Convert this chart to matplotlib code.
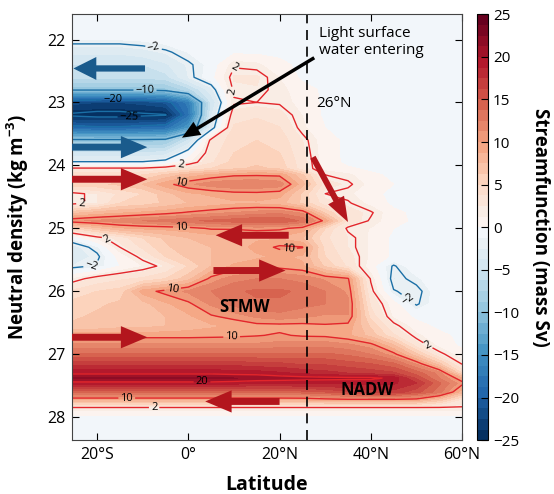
import numpy as np
import matplotlib
matplotlib.use('Agg')
import matplotlib.pyplot as plt
from matplotlib.colors import ListedColormap

plt.rcParams['font.family'] = ['Open Sans', 'DejaVu Sans']
plt.rcParams['mathtext.fontset'] = 'custom'
plt.rcParams['mathtext.rm'] = 'Open Sans'
plt.rcParams['mathtext.bf'] = 'Open Sans:bold'

# grid: columns = latitude, rows = neutral density
latitude = [-25.5, -20, -15, -10, -5, 0, 5, 10, 15, 20, 25, 30, 35, 40, 45, 50, 55, 60]
density = [21.6, 22.0, 22.2, 22.4, 22.6, 22.8, 23.0, 23.2, 23.4, 23.6, 23.8, 23.95,
           24.05, 24.15, 24.3, 24.45, 24.6, 24.75, 24.88, 25.0, 25.15, 25.3, 25.45,
           25.6, 25.8, 26.0, 26.2, 26.4, 26.55, 26.7, 26.85, 27.0, 27.15, 27.3,
           27.38, 27.46, 27.6, 27.72, 27.85, 28.0, 28.4]
psi = [
    [-0.8, -0.8, -0.8, -0.6, -0.4, -0.3, -0.3, -0.3, -0.3, -0.3, -0.3, -0.3, -0.3, -0.3, -0.3, -0.3, -0.3, -0.3],
    [-1.2, -1.2, -1.2, -1.0, -0.6, -0.3, -0.3, -0.3, -0.3, -0.3, -0.3, -0.3, -0.3, -0.3, -0.3, -0.3, -0.3, -0.3],
    [-3.5, -3.5, -3.5, -3.0, -2.3, -1.2, -0.3, -0.3, -0.3, -0.3, -0.3, -0.3, -0.3, -0.3, -0.3, -0.3, -0.3, -0.3],
    [-5.0, -5.0, -5.0, -5.0, -4.0, -2.3, -0.8, 1.8, 1.5, 0.3, -0.3, -0.3, -0.3, -0.3, -0.3, -0.3, -0.3, -0.3],
    [-6.0, -6.0, -6.0, -6.0, -5.5, -2.5, -0.5, 2.6, 2.7, 1.2, -0.3, -0.3, -0.3, -0.3, -0.3, -0.3, -0.3, -0.3],
    [-9.8, -9.8, -9.8, -9.8, -9.3, -7.0, -3.0, 2.3, 2.4, 1.6, 0.6, -0.3, -0.3, -0.3, -0.3, -0.3, -0.3, -0.3],
    [-22, -22.5, -22.5, -22, -21, -17, -5.0, 1.8, 2.0, 1.8, 0.8, -0.3, -0.3, -0.3, -0.3, -0.3, -0.3, -0.3],
    [-25.5, -26, -26, -25.5, -25.2, -18, -4.0, 3.0, 3.5, 3.0, 1.2, -0.3, -0.3, -0.3, -0.3, -0.3, -0.3, -0.3],
    [-19, -19.5, -19.5, -19, -18.5, -14, -3.0, 4.0, 4.5, 3.8, 1.5, 0.0, -0.3, -0.3, -0.3, -0.3, -0.3, -0.3],
    [-9.5, -9.5, -9.5, -9.5, -9.3, -5.0, 2.5, 4.5, 5.0, 4.5, 2.5, 0.5, -0.3, -0.3, -0.3, -0.3, -0.3, -0.3],
    [-5.0, -5.0, -5.0, -5.0, -4.5, -1.0, 3.0, 5.0, 5.5, 5.0, 2.8, 0.5, -0.3, -0.3, -0.3, -0.3, -0.3, -0.3],
    [-1.8, -1.8, -1.8, -1.8, -1.2, 1.0, 3.5, 5.5, 6.0, 5.5, 3.0, 0.6, -0.3, -0.3, -0.3, -0.3, -0.3, -0.3],
    [2.3, 2.3, 2.3, 2.3, 3.0, 4.0, 5.0, 6.0, 6.5, 6.0, 3.0, 0.8, 0.2, -0.3, -0.3, -0.3, -0.3, -0.3],
    [4.5, 4.5, 4.5, 5.0, 6.5, 8.0, 9.0, 9.7, 9.8, 9.7, 6.5, 2.0, 1.5, 0.3, -0.3, -0.3, -0.3, -0.3],
    [6.0, 6.0, 6.5, 7.5, 9.5, 11, 12, 12.5, 12.5, 12, 8.0, 3.0, 2.3, 0.8, 0.0, -0.3, -0.3, -0.3],
    [1.5, 2.5, 4.0, 5.0, 7.0, 8.5, 9.0, 9.5, 9.6, 9.3, 6.0, 2.0, 1.5, 0.3, -0.3, -0.3, -0.3, -0.3],
    [1.5, 2.5, 5.0, 5.5, 6.5, 7.5, 8.0, 8.5, 8.5, 8.0, 6.0, 3.0, 2.2, 0.8, -0.3, -0.3, -0.3, -0.3],
    [7.0, 8.0, 8.5, 9.0, 9.5, 10.2, 10.8, 11.3, 11.8, 12.2, 11, 6.0, 3.0, 2.2, 0.3, -0.3, -0.3, -0.3],
    [11, 11.5, 12, 12.5, 13, 13.5, 14, 14.5, 15, 15, 13.5, 9.5, 3.5, 1.8, 0.5, -0.3, -0.3, -0.3],
    [5.0, 7.0, 8.5, 9.0, 9.2, 9.5, 10.2, 10.2, 10.5, 10.3, 9.5, 5.0, 1.7, 1.2, 0.0, -0.3, -0.3, -0.3],
    [-1.0, 1.5, 3.0, 5.0, 6.5, 7.5, 8.0, 8.5, 8.5, 8.5, 7.5, 4.0, 2.5, 1.0, -0.3, -0.3, -0.3, -0.3],
    [-3.0, -1.5, 2.0, 4.0, 6.0, 7.0, 7.5, 8.0, 9.2, 10.3, 10.1, 4.5, 2.5, 1.0, -0.3, -0.3, -0.3, -0.3],
    [-3.0, -2.3, 0.5, 2.5, 5.0, 6.5, 7.5, 8.0, 8.5, 9.0, 8.5, 5.0, 3.0, 1.0, -0.3, -0.3, -0.3, -0.3],
    [-2.5, -1.8, 0.0, 1.2, 2.5, 5.0, 7.5, 9.0, 9.5, 9.5, 9.0, 6.0, 3.5, 0.5, -2.2, -0.3, -0.3, -0.3],
    [1.2, 2.8, 3.5, 4.0, 5.0, 7.0, 10.5, 12, 12.5, 12.5, 12, 11, 10.2, 1.8, -2.6, -1.5, -0.3, -0.3],
    [4.0, 5.0, 5.5, 9.3, 10.5, 11.5, 12.5, 13.5, 14, 14, 13.5, 12.5, 11, 2.5, -1.9, -2.5, -0.5, -0.3],
    [5.5, 6.0, 6.5, 7.0, 8.5, 9.7, 11.5, 13, 13.5, 13.5, 13, 12.5, 11.5, 3.5, 0.5, -2.2, -0.5, -0.3],
    [6.0, 6.5, 7.0, 7.0, 7.5, 8.5, 9.8, 10.5, 11.5, 12, 11.5, 11, 11.2, 4.5, 1.0, -0.3, -0.3, -0.3],
    [6.5, 6.5, 7.0, 7.0, 7.5, 8.0, 8.5, 9.0, 9.5, 9.5, 9.5, 9.8, 9.5, 6.0, 2.5, 0.5, -0.3, -0.3],
    [9.5, 9.5, 9.5, 9.5, 9.5, 9.5, 9.6, 9.7, 9.9, 10.2, 9.8, 9.7, 9.0, 7.0, 4.0, 1.5, 0.3, -0.3],
    [11.5, 11.5, 11.5, 11.5, 11.5, 11.5, 11.5, 11.5, 11.5, 11.8, 12, 12, 11.5, 10.5, 7.5, 3.0, 0.8, -0.3],
    [14, 14, 14, 14, 14, 14, 14, 14, 14, 14, 14, 14, 13.5, 12.5, 10.5, 6.5, 2.5, 0.5],
    [17, 17, 17, 17, 17, 17, 17, 17, 16.5, 16.5, 16, 16, 15.5, 15, 14, 11, 6.5, 1.8],
    [19.7, 19.7, 19.7, 19.7, 19.7, 19.7, 19.7, 19.5, 19.5, 19, 18.5, 18, 17.5, 17, 16.5, 14.5, 12, 5.0],
    [21.5, 21.5, 21.5, 21.5, 21.5, 21.5, 21.5, 21.3, 21, 20.8, 20.6, 20.5, 20.4, 20.4, 19.6, 16, 12.5, 9.0],
    [19.5, 19.5, 19.5, 19.5, 19.5, 19.5, 19.5, 19.3, 19, 19, 19, 19, 19, 19, 19, 17.5, 14, 10.5],
    [14, 14, 14, 14, 14, 14, 14, 14, 14, 14, 14.5, 15, 16, 17, 17, 15.5, 13, 8.0],
    [9.0, 9.0, 9.0, 9.0, 9.0, 9.0, 9.0, 9.0, 9.0, 9.0, 9.0, 9.5, 9.8, 9.8, 9.8, 9.5, 7.0, 3.5],
    [1.8, 1.8, 1.8, 1.8, 1.8, 1.8, 1.8, 1.8, 1.8, 1.8, 1.8, 1.8, 1.8, 1.8, 1.8, 1.8, 1.8, 1.8],
    [-0.3, -0.3, -0.3, -0.3, -0.3, -0.3, -0.3, -0.3, -0.3, -0.3, -0.3, -0.3, -0.3, -0.3, -0.3, -0.3, -0.3, -0.3],
    [-0.3, -0.3, -0.3, -0.3, -0.3, -0.3, -0.3, -0.3, -0.3, -0.3, -0.3, -0.3, -0.3, -0.3, -0.3, -0.3, -0.3, -0.3],
]

red_levels = [2, 10, 20]
blue_levels = [-25, -20, -10, -2]
lat_ticks = [-20, 0, 20, 40, 60]
lat_labels = ['20°S', '0°', '20°N', '40°N', '60°N']
cbar_ticks = [-25, -20, -15, -10, -5, 0, 5, 10, 15, 20, 25]

red_label_pos = [(9.5, 22.42), (9, 22.84), (-1.7, 24.0), (-1.5, 24.3), (-23.5, 24.55),
                 (-1.5, 24.97), (-19, 25.3), (22, 25.35), (-3.5, 25.93), (9.5, 26.73),
                 (3, 27.43), (-13.5, 27.7), (-7.5, 27.84), (52, 26.93)]
blue_label_pos = [(-7.5, 22.08), (-9.5, 22.8), (-16.5, 22.97), (-13, 23.2),
                  (-21, 25.62), (49, 26.05)]

RED = '#e3262b'
BLUE = '#1b6fa6'
ARROW_RED = '#b3161d'
ARROW_BLUE = '#1a5b8c'

lat = np.array(latitude)
dens = np.array(density)
field = np.array(psi)

# 40-step RdBu with whiter centre bins
cols = plt.get_cmap('RdBu_r')(np.linspace(0, 1, 40))
cols[19] = matplotlib.colors.to_rgba('#f2f6fa')
cols[20] = matplotlib.colors.to_rgba('#fcf3ef')
cmap = ListedColormap(cols)

fig = plt.figure(figsize=(5.54, 4.94), dpi=100)
ax = fig.add_axes([0.130, 0.109, 0.704, 0.862])
cax = fig.add_axes([0.861, 0.109, 0.020, 0.862])

levels = np.linspace(-25, 25, 41)
cf = ax.contourf(lat, dens, np.clip(field, -24.99, 24.99), levels=levels, cmap=cmap)

fmt = lambda v: f'{v:g}'.replace('-', '\u2212')
cs_r = ax.contour(lat, dens, field, levels=red_levels, colors=RED, linewidths=1.0,
                  linestyles='solid')
cs_b = ax.contour(lat, dens, field, levels=blue_levels, colors=BLUE, linewidths=1.0,
                  linestyles='solid')
ax.clabel(cs_r, fmt=fmt, fontsize=8, manual=red_label_pos, inline_spacing=2, colors='k')
ax.clabel(cs_b, fmt=fmt, fontsize=8, manual=blue_label_pos, inline_spacing=2, colors='k')

ax.axvline(26, color='k', ls=(0, (6, 4)), lw=1.2)


def fat_arrow(tail, tip, color, shaft=5, head_w=16, head_l=19):
    style = f'simple,head_length={head_l},head_width={head_w},tail_width={shaft}'
    ax.annotate('', xy=tip, xytext=tail,
                arrowprops=dict(arrowstyle=style, color=color, lw=0,
                                shrinkA=0, shrinkB=0, mutation_scale=1))


fat_arrow((-9.5, 22.46), (-25.2, 22.46), ARROW_BLUE, 4.5, 16.5, 16.5)
fat_arrow((-25.5, 23.71), (-9, 23.71), ARROW_BLUE)
fat_arrow((-25.5, 24.22), (-9, 24.22), ARROW_RED)
fat_arrow((22, 25.11), (6, 25.11), ARROW_RED)
fat_arrow((5.5, 25.67), (21.3, 25.67), ARROW_RED)
fat_arrow((-25.5, 26.73), (-9, 26.73), ARROW_RED)
fat_arrow((20, 27.75), (3.7, 27.75), ARROW_RED)
fat_arrow((27.3, 23.87), (35, 24.9), ARROW_RED, 4.3, 13, 18)
fat_arrow((27.6, 22.29), (-1.4, 23.56), 'k', 2.5, 11, 13)

ax.text(28.7, 21.79, 'Light surface\nwater entering', fontsize=11, va='top', ha='left',
        linespacing=1.15)
ax.text(28.1, 23.02, '26°N', fontsize=11, va='center', ha='left')
ax.text(12.3, 26.25, 'STMW', fontsize=12, fontweight='bold', ha='center', va='center')
ax.text(39.2, 27.57, 'NADW', fontsize=12, fontweight='bold', ha='center', va='center')

ax.set_xlim(-25.5, 60)
ax.set_ylim(28.365, 21.6)
ax.set_xticks(lat_ticks)
ax.set_xticklabels(lat_labels)
ax.set_yticks(range(22, 29))
ax.tick_params(direction='in', top=True, right=True, length=5, labelsize=11.5, pad=5)
ax.set_xlabel('Latitude', fontsize=14, fontweight='bold')
ax.set_ylabel(r'Neutral density (kg m$^{\mathbf{-3}}$)', fontsize=13.5, fontweight='bold')
ax.xaxis.set_label_coords(0.5, -0.083)
ax.yaxis.set_label_coords(-0.105, 0.5)
for s in ax.spines.values():
    s.set_color('#444444')

cb = fig.colorbar(cf, cax=cax, ticks=cbar_ticks)
cb.ax.tick_params(direction='in', length=5, labelsize=11)
cb.outline.set_linewidth(0.8)
cb.set_label('Streamfunction (mass Sv)', fontsize=13.5, fontweight='bold', rotation=270,
             labelpad=22)

fig.savefig('out.png', dpi=100)
